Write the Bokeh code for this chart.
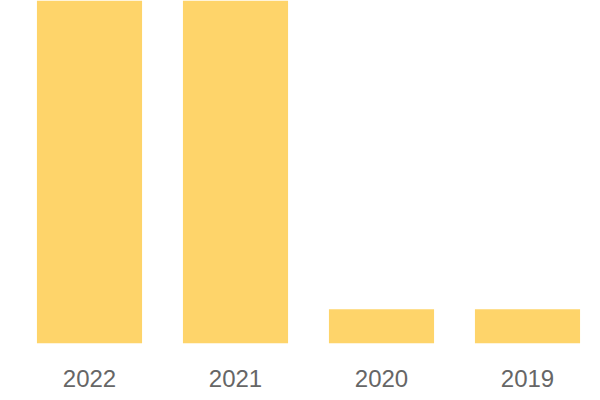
from bokeh.plotting import figure
from bokeh.models import ColumnDataSource, Range1d
from bokeh.embed import file_html
from bokeh.resources import INLINE

years = ["2022", "2021", "2020", "2019"]
values = [10, 10, 1, 1]

source = ColumnDataSource(data=dict(years=years, values=values))

p = figure(x_range=years, y_range=Range1d(0, 10), width=600, height=400,
           output_backend="svg", toolbar_location=None, y_axis_location=None,
           min_border_left=16, min_border_right=0, min_border_top=0, min_border_bottom=57)
p.vbar(x="years", top="values", bottom=0, width=0.72, source=source,
       fill_color="#FED46A", line_color=None)

p.xgrid.grid_line_color = None
p.ygrid.grid_line_color = None
p.outline_line_color = None
p.xaxis.axis_line_color = None
p.xaxis.major_tick_line_color = None
p.xaxis.minor_tick_line_color = None
p.xaxis.major_label_text_font = "Liberation Sans"
p.xaxis.major_label_text_font_size = "24px"
p.xaxis.major_label_text_color = "#666666"
p.xaxis.major_label_standoff = 20

open("out.html", "w").write(file_html(p, INLINE))
